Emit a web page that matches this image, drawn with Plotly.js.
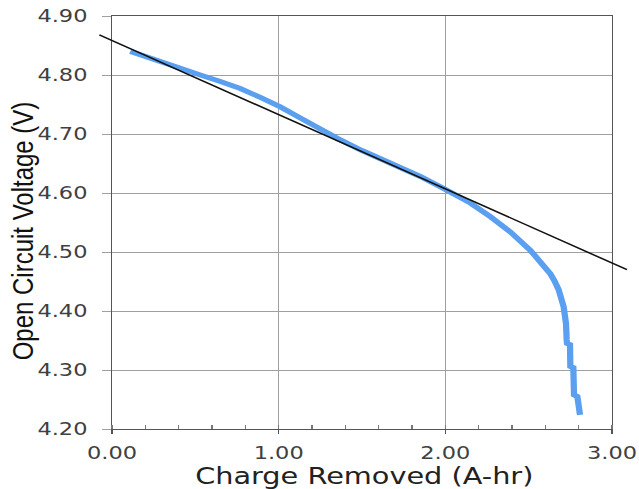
<!DOCTYPE html>
<html>
<head>
<meta charset="utf-8">
<script src="https://cdn.plot.ly/plotly-3.0.1.min.js"></script>
<style>
  html, body { margin: 0; padding: 0; background: #ffffff; overflow: hidden; }
  #chart { width: 511px; height: 489px; transform: scaleX(1.2505); transform-origin: 0 0; }
</style>
</head>
<body>
<div id="chart"></div>
<script>
// ---- data ----
const chargeRemoved = [0.11, 0.20, 0.30, 0.41, 0.53, 0.65, 0.77, 0.89, 1.01, 1.13, 1.25, 1.35, 1.50, 1.65, 1.85, 2.00, 2.15, 2.27, 2.39, 2.51, 2.56, 2.60, 2.63, 2.655, 2.68, 2.71, 2.724, 2.728, 2.73, 2.748, 2.75, 2.768, 2.772, 2.792, 2.797, 2.808];
const openCircuitV  = [4.840, 4.831, 4.821, 4.810, 4.800, 4.789, 4.777, 4.762, 4.746, 4.727, 4.708, 4.693, 4.672, 4.653, 4.628, 4.606, 4.583, 4.560, 4.534, 4.503, 4.487, 4.475, 4.463, 4.451, 4.436, 4.407, 4.379, 4.351, 4.345, 4.343, 4.306, 4.304, 4.258, 4.255, 4.240, 4.224];
const fitLineX = [-0.076, 3.09];
const fitLineY = [4.868, 4.470];
const xTickVals = [0, 1, 2, 3];
const xTickText = ['0.00', '1.00', '2.00', '3.00'];
const yTickVals = [4.2, 4.3, 4.4, 4.5, 4.6, 4.7, 4.8, 4.9];
const yTickText = ['4.20', '4.30', '4.40', '4.50', '4.60', '4.70', '4.80', '4.90'];
const xTitle = 'Charge Removed (A-hr)';
const yTitle = 'Open Circuit Voltage (V)';
const xRange = [0, 3];
const yRange = [4.2, 4.9];

// ---- geometry (screen px of the reference) ----
const S = 1.2505;            // horizontal stretch of the reference
const W = 511, H = 489;
const L = 112, R = 612, T = 16, B = 429;   // main plot box (screen)
const L0 = 90, R0 = 634, T0 = 8, B0 = 436; // outer box for the fit line
const ml = Math.round(L0 / S), mr = Math.round(W - R0 / S), mt = T0, mb = H - B0;
const pw = W - ml - mr, ph = H - mt - mb;
const xd = [(L / S - ml) / pw, (R / S - ml) / pw];
const yd = [(H - mb - B) / ph, (H - mb - T) / ph];
const pxPerX = (R - L) / S / (xRange[1] - xRange[0]);
const pxPerV = (B - T) / (yRange[1] - yRange[0]);
const x2r = [(ml - L / S) / pxPerX, (W - mr - L / S) / pxPerX];
const y2r = [yRange[0] + (B - (H - mb)) / pxPerV, yRange[0] + (B - mt) / pxPerV];

const tickFont = { family: 'DejaVu Sans', size: 18, color: '#404040' };

const data = [
  {
    x: chargeRemoved, y: openCircuitV, type: 'scatter', mode: 'lines',
    line: { color: '#5a9ff0', width: 5 }, xaxis: 'x', yaxis: 'y', hoverinfo: 'skip'
  },
  {
    x: fitLineX, y: fitLineY, type: 'scatter', mode: 'lines',
    line: { color: '#111111', width: 1.5 }, xaxis: 'x2', yaxis: 'y2', hoverinfo: 'skip'
  }
];

const layout = {
  width: W, height: H,
  margin: { l: ml, r: mr, t: mt, b: mb, pad: 0 },
  paper_bgcolor: '#ffffff', plot_bgcolor: 'rgba(0,0,0,0)',
  showlegend: false,
  xaxis: {
    domain: xd, range: xRange, anchor: 'y',
    tickvals: xTickVals, ticktext: xTickText, tickfont: tickFont,
    ticks: 'outside', ticklen: 4, tickcolor: '#555', tickwidth: 1,
    ticklabelstandoff: 3,
    showgrid: true, gridcolor: '#a0a0a0', gridwidth: 1,
    showline: true, linecolor: '#555', linewidth: 1, mirror: true,
    zeroline: false, automargin: false,
    minor: { ticks: 'inside', dtick: 0.2, ticklen: 4, tickcolor: '#777', showgrid: false }
  },
  yaxis: {
    domain: yd, range: yRange, anchor: 'x',
    tickvals: yTickVals, ticktext: yTickText, tickfont: tickFont,
    ticks: 'outside', ticklen: 7, tickcolor: '#a0a0a0', tickwidth: 1,
    ticklabelstandoff: 8,
    showgrid: true, gridcolor: '#a0a0a0', gridwidth: 1,
    showline: true, linecolor: '#555', linewidth: 1, mirror: true,
    zeroline: false, automargin: false
  },
  xaxis2: { domain: [0, 1], range: x2r, anchor: 'y2', visible: false, showgrid: false, zeroline: false, fixedrange: true },
  yaxis2: { domain: [0, 1], range: y2r, anchor: 'x2', visible: false, showgrid: false, zeroline: false, fixedrange: true },
  annotations: [
    {
      text: yTitle, textangle: -90,
      xref: 'paper', yref: 'paper',
      x: (23 / S - ml) / pw, y: (H - mb - 231) / ph,
      xanchor: 'center', yanchor: 'middle', showarrow: false,
      font: { family: 'Liberation Sans, Arial, sans-serif', size: 24, color: '#111' }
    },
    {
      text: xTitle,
      xref: 'paper', yref: 'paper',
      x: ((L + R) / 2 / S - ml) / pw + 0.004, y: (H - mb - 489.5) / ph,
      xanchor: 'center', yanchor: 'bottom', showarrow: false, borderpad: 0,
      font: { family: 'DejaVu Sans', size: 23, color: '#222' }
    }
  ]
};

Plotly.newPlot('chart', data, layout, { staticPlot: true, displayModeBar: false });
</script>
</body>
</html>
